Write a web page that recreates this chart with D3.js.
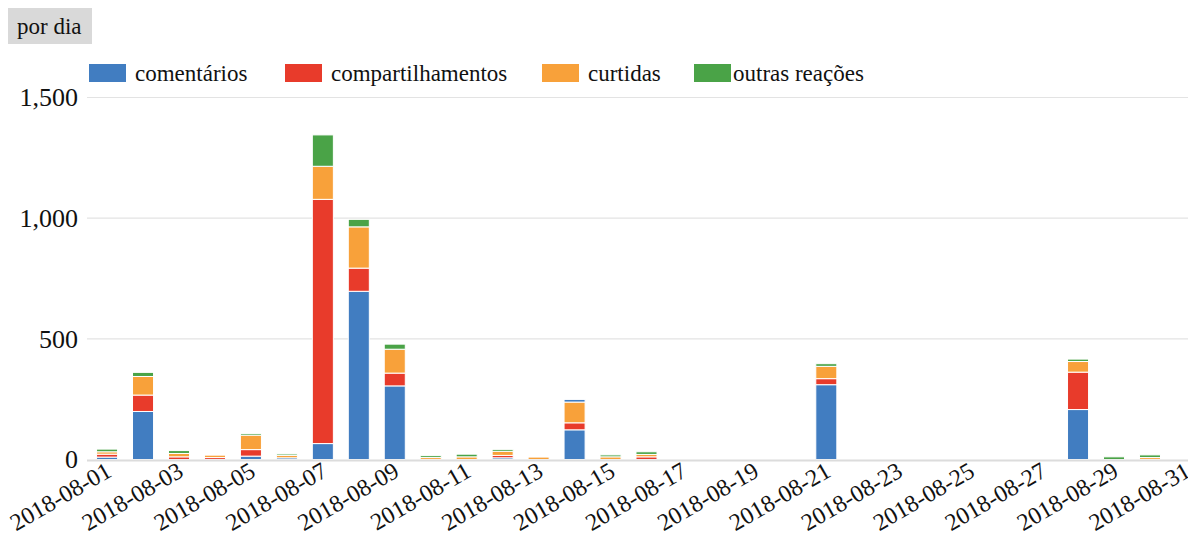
<!DOCTYPE html>
<html>
<head>
<meta charset="utf-8">
<script src="https://cdn.jsdelivr.net/npm/d3@7/dist/d3.min.js"></script>
<style>
  body { margin: 0; background: #fff; }
  svg { display: block; }
  svg text { font-family: "Liberation Serif", "Times New Roman", "Liberation Sans", Arial, sans-serif !important; }
</style>
</head>
<body>
<svg id="chart" width="1188" height="533"></svg>
<script>
// Daily interaction counts, August 2018
const dates = [
  "2018-08-01","2018-08-02","2018-08-03","2018-08-04","2018-08-05","2018-08-06",
  "2018-08-07","2018-08-08","2018-08-09","2018-08-10","2018-08-11","2018-08-12",
  "2018-08-13","2018-08-14","2018-08-15","2018-08-16","2018-08-17","2018-08-18",
  "2018-08-19","2018-08-20","2018-08-21","2018-08-22","2018-08-23","2018-08-24",
  "2018-08-25","2018-08-26","2018-08-27","2018-08-28","2018-08-29","2018-08-30",
  "2018-08-31"
];
const comentarios = [10,199,0,0,14,7,66,697,305,0,0,7,0,123,0,0,0,0,0,0,310,0,0,0,0,0,0,207,0,0,0];
const compartilhamentos = [12,68,11,8,27,0,1012,96,53,0,0,10,0,29,0,11,0,0,0,0,25,0,0,0,0,0,0,155,0,0,0];
const curtidas = [10,77,14,10,60,10,137,171,99,8,11,17,10,86,11,10,0,0,0,0,51,0,0,0,0,0,0,44,0,8,0];
const outrasReacoes = [11,17,12,0,7,6,130,31,21,8,11,8,0,0,8,11,0,0,0,0,11,0,0,0,0,0,0,10,11,11,0];
// small unlabelled remainder stacked on top (drawn in the comments colour)
const restante = [0,0,0,0,0,0,0,0,0,0,0,0,0,11,0,0,0,0,0,0,0,0,0,0,0,0,0,0,0,0,0];

const seriesNames = ["comentários","compartilhamentos","curtidas","outras reações","restante"];
const seriesColors = ["#417dc1","#e83b2b","#f8a13a","#4aa347","#417dc1"];
const legendNames = ["comentários","compartilhamentos","curtidas","outras reações"];
const yTicks = [0, 500, 1000, 1500];
const xTickLabels = dates.filter((d, i) => i % 2 === 0);
const title = "por dia";

const rows = dates.map((d, i) => ({
  date: d,
  "comentários": comentarios[i],
  "compartilhamentos": compartilhamentos[i],
  "curtidas": curtidas[i],
  "outras reações": outrasReacoes[i],
  "restante": restante[i]
}));

const svg = d3.select("#chart");
const plotLeft = 87, plotRight = 1188;

const x = d3.scaleBand()
  .domain(dates)
  .range([89, 1204])
  .paddingInner(0.415)
  .paddingOuter(0.21);

const y = d3.scaleLinear()
  .domain([0, 1500])
  .range([459.5, 97.5]);

const color = d3.scaleOrdinal().domain(seriesNames).range(seriesColors);

// title box
const tg = svg.append("g");
tg.append("rect").attr("x", 8).attr("y", 8).attr("width", 84).attr("height", 36).attr("fill", "#d9d9d9");
tg.append("text").attr("x", 17).attr("y", 34).attr("font-size", 23).attr("fill", "#111").text(title);

// grid lines
svg.append("g").selectAll("line")
  .data(yTicks.filter(t => t > 0))
  .join("line")
  .attr("x1", plotLeft).attr("x2", plotRight)
  .attr("y1", d => y(d)).attr("y2", d => y(d))
  .attr("stroke", "#e3e3e3").attr("stroke-width", 1.2);

// y axis labels
const yAxis = svg.append("g")
  .attr("transform", "translate(78,0)")
  .call(d3.axisLeft(y).tickValues(yTicks).tickFormat(d3.format(",")).tickSize(0).tickPadding(0));
yAxis.select(".domain").remove();
yAxis.selectAll("text").attr("font-size", 26).attr("fill", "#111");

// stacked bars
const stacked = d3.stack().keys(seriesNames)(rows);
svg.append("g").selectAll("g")
  .data(stacked)
  .join("g")
  .attr("fill", d => color(d.key))
  .selectAll("rect")
  .data(d => d.filter(s => s[1] - s[0] > 0))
  .join("rect")
  .attr("x", d => x(d.data.date))
  .attr("width", x.bandwidth())
  .attr("y", d => y(d[1]))
  .attr("height", d => y(d[0]) - y(d[1]))
  .attr("stroke", "#fff")
  .attr("stroke-width", 1);

// baseline
svg.append("line")
  .attr("x1", plotLeft).attr("x2", plotRight)
  .attr("y1", y(0) + 1).attr("y2", y(0) + 1)
  .attr("stroke", "#dcdcdc").attr("stroke-width", 2);

// x axis labels
const xAxis = svg.append("g")
  .attr("transform", `translate(0,${y(0)})`)
  .call(d3.axisBottom(x).tickValues(xTickLabels).tickSize(0));
xAxis.select(".domain").remove();
xAxis.selectAll("text")
  .attr("x", 0).attr("y", 0).attr("dy", 0)
  .attr("transform", "translate(6,16) rotate(-30)")
  .attr("text-anchor", "end")
  .attr("font-size", 24).attr("fill", "#111");

// legend
const legendX = [89, 285, 542, 694];
const legend = svg.append("g").selectAll("g")
  .data(legendNames)
  .join("g")
  .attr("transform", (d, i) => `translate(${legendX[i]},64)`);
legend.append("rect").attr("width", 37).attr("height", 18).attr("fill", d => color(d));
legend.append("text")
  .attr("x", (d, i) => i === 3 ? 39 : 46)
  .attr("y", 17)
  .attr("font-size", 23).attr("fill", "#111")
  .text(d => d);
</script>
</body>
</html>
